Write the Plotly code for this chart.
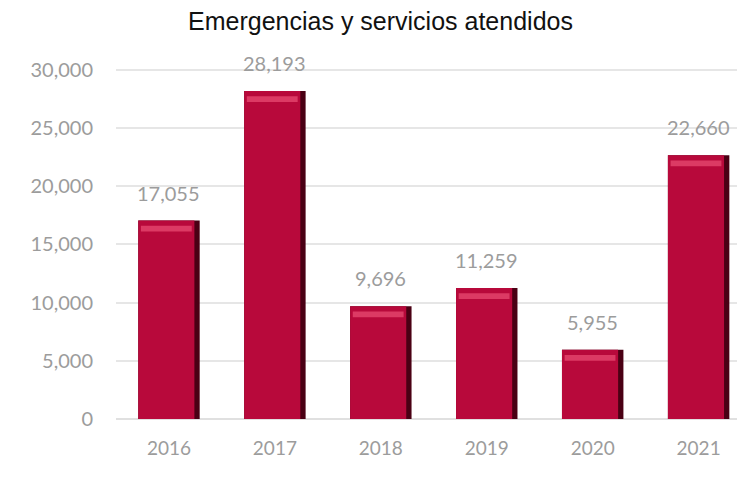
import plotly.graph_objects as go

years = ["2016", "2017", "2018", "2019", "2020", "2021"]
values = [17055, 28193, 9696, 11259, 5955, 22660]
labels = ["17,055", "28,193", "9,696", "11,259", "5,955", "22,660"]

font_family = "Lato, 'Noto Sans', sans-serif"
gray = "#9c9c9c"

fig = go.Figure()

# dark shadow body (gives the 3D right edge)
fig.add_trace(go.Bar(
    x=years, y=values, width=0.58,
    marker=dict(color="#4a0014", line=dict(width=0)),
    hoverinfo="skip",
))
# main face
fig.add_trace(go.Bar(
    x=years, y=values, width=0.53, offset=-0.29,
    marker=dict(color="#b8093b", line=dict(width=0)),
    textposition="none",
))
# highlight strip near the top of each bar
fig.add_trace(go.Bar(
    x=years, y=[500] * len(values), base=[v - 950 for v in values],
    width=0.48, offset=-0.265,
    marker=dict(color="#dc3a64", line=dict(width=0)),
    hoverinfo="skip",
))

# value labels above bars (x given as category index)
for i, (v, lab) in enumerate(zip(values, labels)):
    fig.add_annotation(
        x=i, y=v, text=lab, showarrow=False,
        yanchor="bottom", yshift=14,
        font=dict(family=font_family, size=20, color=gray),
    )

fig.update_layout(
    barmode="overlay",
    showlegend=False,
    width=745, height=477,
    margin=dict(l=108, r=12, t=59, b=66),
    paper_bgcolor="white",
    plot_bgcolor="white",
    title=dict(
        text="Emergencias y servicios atendidos",
        x=0.5, xanchor="center", y=0.972, yanchor="middle",
        font=dict(family="Arial, 'Liberation Sans', sans-serif", size=25, color="#111111"),
    ),
    font=dict(family=font_family, color=gray, size=19),
)

fig.update_xaxes(
    type="category",
    range=[-0.5, 5.4],
    showgrid=False, showline=False, ticks="", ticklabelstandoff=16,
    tickfont=dict(family=font_family, size=19, color=gray),
)
fig.update_yaxes(
    range=[0, 30250],
    tickvals=[0, 5000, 10000, 15000, 20000, 25000, 30000],
    tickformat=",",
    showgrid=True, gridcolor="#e6e6e6", gridwidth=1.5,
    zeroline=True, zerolinecolor="#e0e0e0", zerolinewidth=1.5,
    showline=False, ticks="", ticklabelstandoff=22,
    tickfont=dict(family=font_family, size=20, color=gray),
)

fig.write_html("out.html")
